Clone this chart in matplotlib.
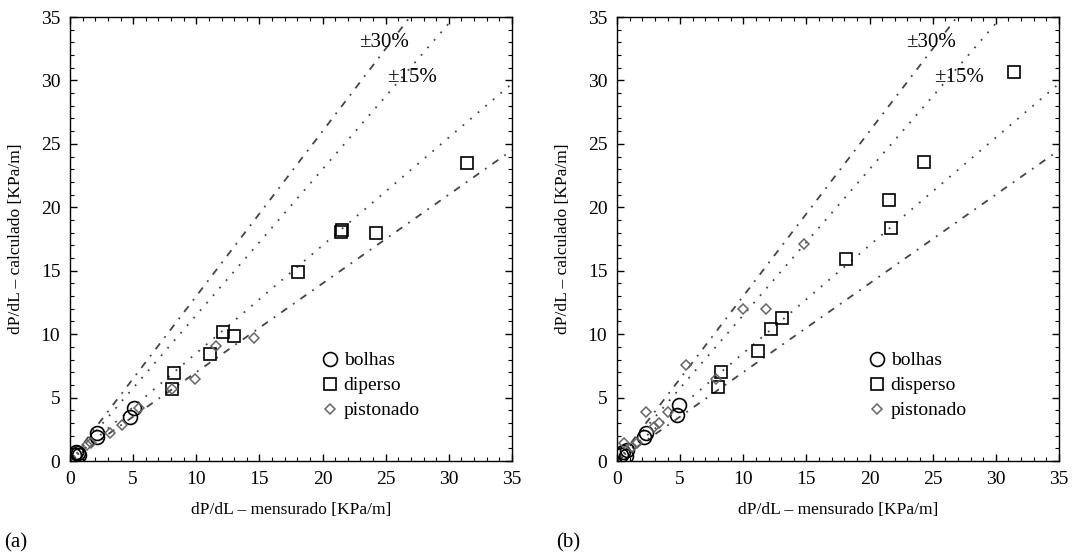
import matplotlib
matplotlib.use("Agg")
import matplotlib.pyplot as plt
from matplotlib.ticker import MultipleLocator
import numpy as np

plt.rcParams['font.family'] = ['Liberation Serif', 'DejaVu Serif']

# (a)
a_bolhas_x = [0.3, 0.5, 0.7, 0.6, 2.1, 2.1, 4.75, 5.1]
a_bolhas_y = [0.5, 0.7, 0.5, 0.6, 2.2, 1.9, 3.5, 4.2]
a_disperso_x = [8.1, 8.2, 11.1, 12.1, 13.0, 18.05, 21.5, 21.45, 24.2, 31.4]
a_disperso_y = [5.7, 6.9, 8.4, 10.2, 9.85, 14.9, 18.2, 18.05, 18.0, 23.5]
a_piston_x = [1.35, 1.7, 3.2, 4.1, 5.5, 8.1, 9.9, 11.6, 14.6]
a_piston_y = [1.26, 1.4, 2.2, 2.8, 4.2, 5.7, 6.5, 9.1, 9.7]

# (b)
b_bolhas_x = [0.3, 0.5, 0.7, 0.8, 2.3, 2.1, 4.9, 4.75]
b_bolhas_y = [0.5, 0.7, 0.4, 0.9, 2.2, 1.9, 4.4, 3.6]
b_disperso_x = [8.0, 8.2, 11.2, 12.2, 13.1, 18.1, 21.7, 21.5, 24.3, 31.4]
b_disperso_y = [5.8, 7.0, 8.7, 10.4, 11.3, 15.9, 18.4, 20.6, 23.6, 30.7]
b_piston_x = [0.55, 1.2, 1.6, 2.3, 2.9, 3.3, 4.0, 5.5, 7.8, 10.0, 11.8, 14.8]
b_piston_y = [1.4, 1.1, 1.4, 3.9, 2.7, 3.0, 3.9, 7.6, 6.5, 12.0, 12.0, 17.1]

legend_a = ['bolhas', 'diperso', 'pistonado']
legend_b = ['bolhas', 'disperso', 'pistonado']

W, H = 1079, 557
fig = plt.figure(figsize=(W / 100, H / 100), dpi=100)


def panel(left_px, data, names, tag, tag_x):
    ax = fig.add_axes([left_px / W, (H - 461) / H, 442 / W, 444 / H])
    xs = np.array([0, 35])
    ax.plot(xs, 1.3 * xs, color='#444444', lw=1.3, ls=(0, (4, 4, 1, 4)))
    ax.plot(xs, 0.7 * xs, color='#444444', lw=1.3, ls=(0, (4, 4, 1, 4)))
    ax.plot(xs, 1.15 * xs, color='#444444', lw=1.3, ls=(0, (1, 4.5)))
    ax.plot(xs, 0.85 * xs, color='#444444', lw=1.3, ls=(0, (1, 4.5)))

    bx, by, dx, dy, px, py = data
    ax.plot(bx, by, 'o', ms=10, mfc='none', mec='black', mew=1.2, label=names[0])
    ax.plot(dx, dy, 's', ms=8.3, mfc='none', mec='black', mew=1.2, label=names[1])
    ax.plot(px, py, 'D', ms=5.5, mfc='none', mec='#666666', mew=1.1, label=names[2])

    ax.text(24.9, 33.0, '±30%', fontsize=15, ha='center', va='center')
    ax.text(27.1, 30.2, '±15%', fontsize=15, ha='center', va='center')

    ax.set_xlim(0, 35)
    ax.set_ylim(0, 35)
    ax.xaxis.set_major_locator(MultipleLocator(5))
    ax.yaxis.set_major_locator(MultipleLocator(5))
    ax.xaxis.set_minor_locator(MultipleLocator(1))
    ax.yaxis.set_minor_locator(MultipleLocator(1))
    ax.tick_params(which='both', direction='in', top=True, right=True, labelsize=14)
    ax.tick_params(which='major', length=5, width=1, pad=7)
    ax.tick_params(which='minor', length=3, width=0.8)
    for s in ax.spines.values():
        s.set_linewidth(1.0)
    ax.set_xlabel('dP/dL – mensurado [KPa/m]', fontsize=12.5, labelpad=10)
    ax.set_ylabel('dP/dL – calculado [KPa/m]', fontsize=12.5, labelpad=12)

    ax.legend(loc='upper left', bbox_to_anchor=(0.54, 0.268), frameon=False,
              fontsize=14, handletextpad=0.1, labelspacing=0.38,
              borderpad=0, handlelength=1.2)
    fig.text(tag_x / W, 1 - 543 / H, tag, fontsize=15, va='center')
    return ax


panel(70, (a_bolhas_x, a_bolhas_y, a_disperso_x, a_disperso_y, a_piston_x, a_piston_y),
      legend_a, '(a)', 4)
panel(617, (b_bolhas_x, b_bolhas_y, b_disperso_x, b_disperso_y, b_piston_x, b_piston_y),
      legend_b, '(b)', 556)

fig.savefig('out.png', dpi=100)
